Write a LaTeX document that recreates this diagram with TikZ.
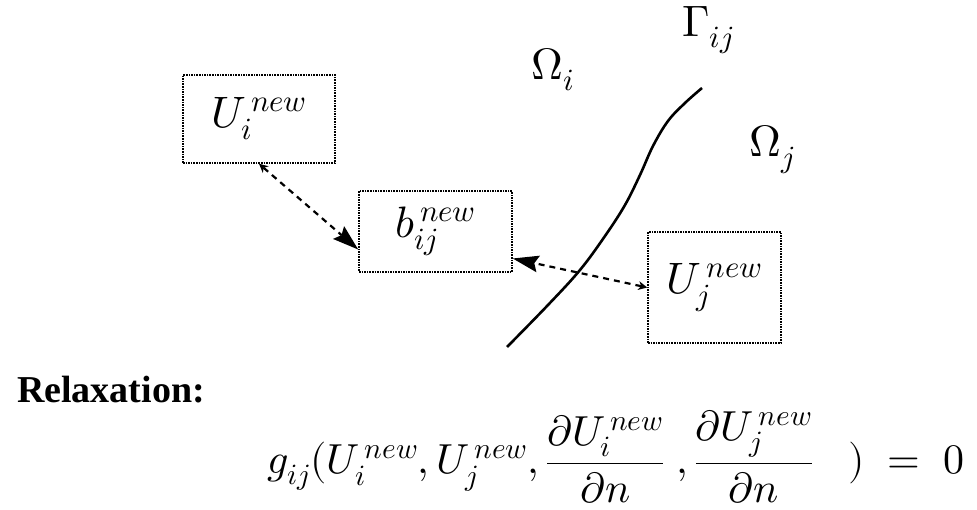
\documentclass[tikz,border=0pt]{standalone}
\usepackage{fontspec}
\usepackage{unicode-math}
\setmainfont{Liberation Serif}
\usetikzlibrary{arrows.meta,calc}

\tikzset{
    varbox/.style={draw, densely dotted, line width=1.6pt, inner sep=0pt},
    link/.style={line width=2.2pt, dash pattern=on 6pt off 5pt},
    lbl/.style={inner sep=0pt, font=\fontsize{44}{50}\selectfont}
}

\begin{document}
\begin{tikzpicture}[x=1pt, y=-1pt]
    \useasboundingbox (0,0) rectangle (977,510);

    % Interface
    \draw[line width=2.6pt] plot[smooth, tension=0.6] coordinates
        {(507,347) (548,305) (580,270) (605,236) (625,205) (640,175) (653,146) (668,121) (685,103) (702,88)};
    \node[lbl] (omi) at (553,70) {$\Omega_i$};
    \node[lbl] (gam) at (708,30) {$\Gamma_{ij}$};
    \node[lbl] (omj) at (772,150) {$\Omega_j$};

    % Unbekannte
    \node[varbox, minimum width=152pt, minimum height=88pt] (ui) at (259,119) {};
    \node[lbl] at (ui) {$U_i^{\,new}$};
    \node[varbox, minimum width=153pt, minimum height=81pt] (bij) at (435.5,231.5) {};
    \node[lbl] at (bij) {$b_{ij}^{\,new}$};
    \node[varbox, minimum width=133pt, minimum height=111pt] (uj) at (714.5,287.5) {};
    \node[lbl] at (uj) {$U_j^{\,new}$};

    \draw[link, {Stealth[length=9pt,width=9pt,line width=0pt]}-{Stealth[length=26pt,width=17pt,inset=4pt,line width=0pt]}]
        (ui.south) -- ([yshift=-18pt]bij.west);
    \draw[link, {Stealth[length=9pt,width=9pt,line width=0pt]}-{Stealth[length=26pt,width=17pt,inset=4pt,line width=0pt]}]
        (uj.west) -- ([yshift=-27pt]bij.east);

    % Relaxation
    \node[inner sep=0pt, font=\fontsize{38}{44}\selectfont\bfseries] (rel) at (111,390) {Relaxation:};
    \node[inner sep=0pt, font=\fontsize{42}{48}\selectfont] (eq) at (616,457)
        {$g_{ij}(U_i^{\,new},U_j^{\,new},\dfrac{\partial U_i^{\,new}}{\partial n}\;,\dfrac{\partial U_j^{\,new}}{\partial n}\;\;\;)\;=\;0$};
\end{tikzpicture}
\end{document}
